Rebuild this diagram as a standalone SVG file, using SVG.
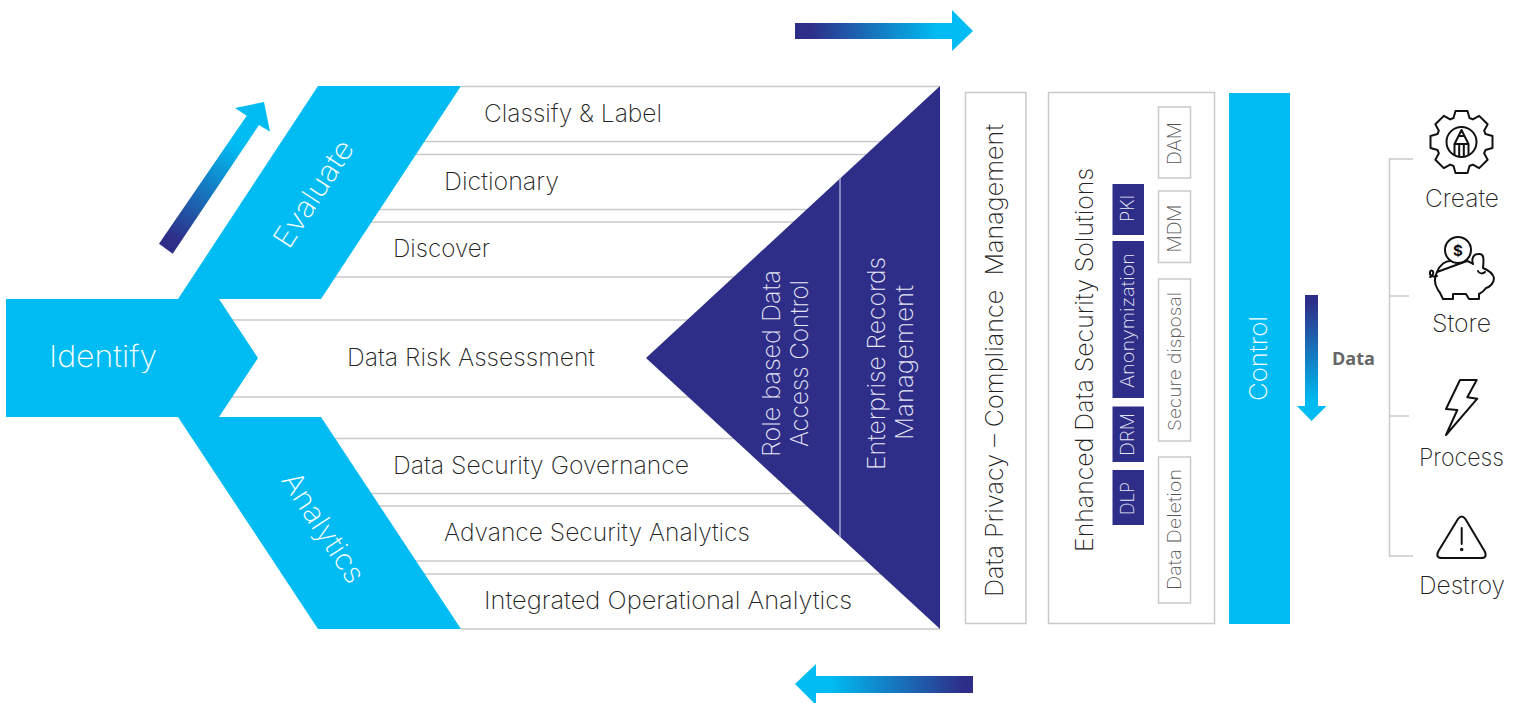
<svg xmlns="http://www.w3.org/2000/svg" width="1520" height="703" viewBox="0 0 1520 703">
<style>
text{font-family:"Inter","Liberation Sans",sans-serif;font-weight:200}
.t{font-size:24px;fill:#222}
.w{font-size:24px;fill:#fff}
.s{font-size:18px;fill:#555}
.sw{font-size:18px;fill:#e6e7f6}
.c{fill:#00bcf2}
.n{fill:#2e2d88}
.l{stroke:#c9c9c9;stroke-width:1.5;fill:none}
.b{fill:#fff;stroke:#c9c9c9;stroke-width:1.5}
.i{fill:none;stroke:#111;stroke-width:2;stroke-linejoin:round;stroke-linecap:round}
</style>
<defs>
<linearGradient id="gr" x1="0" x2="1" y1="0" y2="0"><stop offset="0.08" stop-color="#2e2d88"/><stop offset="0.8" stop-color="#00bcf2"/></linearGradient>
<linearGradient id="gl" x1="0" x2="1" y1="0" y2="0"><stop offset="0.2" stop-color="#00bcf2"/><stop offset="0.95" stop-color="#2e2d88"/></linearGradient>
<linearGradient id="gd" x1="0" x2="0" y1="0" y2="1"><stop offset="0.05" stop-color="#2e2d88"/><stop offset="0.85" stop-color="#00bcf2"/></linearGradient>
<linearGradient id="gu" gradientUnits="userSpaceOnUse" x1="166" y1="249" x2="253" y2="120"><stop offset="0.08" stop-color="#2e2d88"/><stop offset="0.8" stop-color="#00bcf2"/></linearGradient>
</defs>

<g id="connectors">
<path class="l" d="M461 86.500H940M400 141.500H940M380 154.500H940M340 209.500H940M330 222H940M300 277H940M232 320H940M232 397H940M300 438.500H940M340 493.500H940M350 506H940M380 561H940M400 574H940M461 629H940"/>
<path class="l" d="M1413 159H1389.500V556H1413M1389.500 296H1409M1389.500 416H1409"/>
<path fill="url(#gr)" d="M795 23H952V10L973 31L952 51V39H795Z"/>
<path fill="url(#gl)" d="M973 676H816V664L795 684L816 705V693H973Z"/>
<path fill="url(#gu)" d="M159 243.700L172.700 253.700L259 125L270 131.700L264 102L235 108L246.700 115.700Z"/>
<path fill="url(#gd)" d="M1305 295H1318V406H1326.500L1311.500 421L1297 406H1305Z"/>
</g>

<g id="node-evaluate"><polygon class="c" points="318,86 461,86 321,299 178,299"/><text class="w" style="font-size:29px" text-anchor="middle" transform="translate(322,199) rotate(-57)" textLength="122" lengthAdjust="spacingAndGlyphs">Evaluate</text></g>
<g id="node-identify"><polygon class="c" points="6,299 219,299 258,358 219,417 6,417"/><text class="w" style="font-size:30px" x="49" y="367" textLength="108" lengthAdjust="spacingAndGlyphs">Identify</text></g>
<g id="node-analytics"><polygon class="c" points="178,417 321,417 461,629 318,629"/><text class="w" style="font-size:29px" text-anchor="middle" transform="translate(315,533) rotate(56.700)" textLength="126" lengthAdjust="spacingAndGlyphs">Analytics</text></g>

<g id="node-classify"><text class="t" x="484" y="122" textLength="178" lengthAdjust="spacingAndGlyphs">Classify &amp; Label</text></g>
<g id="node-dictionary"><text class="t" x="444" y="190" textLength="115" lengthAdjust="spacingAndGlyphs">Dictionary</text></g>
<g id="node-discover"><text class="t" x="393" y="257" textLength="97" lengthAdjust="spacingAndGlyphs">Discover</text></g>
<g id="node-risk"><text class="t" x="347" y="366" textLength="248" lengthAdjust="spacingAndGlyphs">Data Risk Assessment</text></g>
<g id="node-governance"><text class="t" x="393" y="474" textLength="296" lengthAdjust="spacingAndGlyphs">Data Security Governance</text></g>
<g id="node-advance"><text class="t" x="444" y="541" textLength="306" lengthAdjust="spacingAndGlyphs">Advance Security Analytics</text></g>
<g id="node-integrated"><text class="t" x="484" y="609" textLength="368" lengthAdjust="spacingAndGlyphs">Integrated Operational Analytics</text></g>

<g id="node-triangle">
<polygon class="n" points="940,86 940,629 646,358"/>
<line x1="840" y1="178" x2="840" y2="537" stroke="#a9a9d4" stroke-width="1.500"/>
<text class="sw" style="font-size:24px" transform="translate(780,457) rotate(-90)" textLength="187" lengthAdjust="spacingAndGlyphs">Role based Data</text>
<text class="sw" style="font-size:24px" transform="translate(808,447) rotate(-90)" textLength="167" lengthAdjust="spacingAndGlyphs">Access Control</text>
<text class="sw" style="font-size:24px" transform="translate(885,470) rotate(-90)" textLength="213" lengthAdjust="spacingAndGlyphs">Enterprise Records</text>
<text class="sw" style="font-size:24px" transform="translate(913,440) rotate(-90)" textLength="155" lengthAdjust="spacingAndGlyphs">Management</text>
</g>

<g id="node-privacy"><rect class="b" x="965.500" y="92.500" width="60.500" height="531"/><text class="t" style="white-space:pre" transform="translate(1003,597) rotate(-90)" textLength="473" lengthAdjust="spacingAndGlyphs">Data Privacy – Compliance  Management</text></g>

<g id="node-enhanced"><rect class="b" x="1048.500" y="92.500" width="166" height="531"/><text class="t" transform="translate(1093,552) rotate(-90)" textLength="384" lengthAdjust="spacingAndGlyphs">Enhanced Data Security Solutions</text></g>
<g id="node-pki"><rect class="n" x="1112.500" y="184" width="31.500" height="51"/><text class="sw" transform="translate(1134,222) rotate(-90)" textLength="27" lengthAdjust="spacingAndGlyphs">PKI</text></g>
<g id="node-anonymization"><rect class="n" x="1112.500" y="241" width="31.500" height="157"/><text class="sw" transform="translate(1134,388) rotate(-90)" textLength="135" lengthAdjust="spacingAndGlyphs">Anonymization</text></g>
<g id="node-drm"><rect class="n" x="1112.500" y="406.500" width="31.500" height="55.500"/><text class="sw" transform="translate(1134,456) rotate(-90)" textLength="43" lengthAdjust="spacingAndGlyphs">DRM</text></g>
<g id="node-dlp"><rect class="n" x="1112.500" y="470" width="31.500" height="55"/><text class="sw" transform="translate(1134,515) rotate(-90)" textLength="33" lengthAdjust="spacingAndGlyphs">DLP</text></g>
<g id="node-dam"><rect class="b" x="1158.500" y="107" width="32" height="71"/><text class="s" transform="translate(1181,165) rotate(-90)" textLength="43" lengthAdjust="spacingAndGlyphs">DAM</text></g>
<g id="node-mdm"><rect class="b" x="1158.500" y="191" width="32" height="71.500"/><text class="s" transform="translate(1181,252.500) rotate(-90)" textLength="48" lengthAdjust="spacingAndGlyphs">MDM</text></g>
<g id="node-secure"><rect class="b" x="1158.500" y="279" width="32" height="162"/><text class="s" transform="translate(1181,431) rotate(-90)" textLength="139" lengthAdjust="spacingAndGlyphs">Secure disposal</text></g>
<g id="node-deletion"><rect class="b" x="1158.500" y="457" width="32" height="146"/><text class="s" transform="translate(1181,590) rotate(-90)" textLength="121" lengthAdjust="spacingAndGlyphs">Data Deletion</text></g>

<g id="node-control"><rect class="c" x="1229" y="93" width="61" height="531"/><text class="w" transform="translate(1267,401) rotate(-90)" textLength="85" lengthAdjust="spacingAndGlyphs">Control</text></g>
<g id="node-data"><text x="1332" y="365" style="font-family:'Open Sans','Liberation Sans',sans-serif;font-size:17.500px;font-weight:700;fill:#666" textLength="43" lengthAdjust="spacingAndGlyphs">Data</text></g>

<g id="node-create">
<g class="i" transform="translate(1461.500,142)">
<path d="M-8-24L-6-31L6-31L8-24L11.310-22.630L17.680-26.160L26.160-17.680L22.630-11.310L24-8L31-6L31 6L24 8L22.630 11.310L26.160 17.680L17.680 26.160L11.310 22.630L8 24L6 31L-6 31L-8 24L-11.310 22.630L-17.680 26.160L-26.160 17.680L-22.630 11.310L-24 8L-31 6L-31-6L-24-8L-22.630-11.310L-26.160-17.680L-17.680-26.160L-11.310-22.630Z"/>
<circle r="15"/>
<path d="M-7 13V2L0-12L7 2V13M-7 2H7M-2.300 2V14M2.300 2V14M-3-6H3"/>
</g>
<text class="t" x="1425" y="207" textLength="74" lengthAdjust="spacingAndGlyphs">Create</text>
</g>
<g id="node-store">
<g class="i">
<circle cx="1458" cy="250" r="13"/>
<path d="M1437 272C1440 264 1446 261 1450 261M1467 261C1470 262 1471 263 1473 264C1471 258 1474 254 1478 254C1484 253 1484 258 1483 268C1488 270 1493 274 1494 278C1494 283 1490 287 1486 288C1484 291 1481 293 1479 294V299H1469L1466 294H1453V299H1443C1441 295 1440 292 1438 290C1434 284 1434 278 1437 272Z"/>
<path d="M1437 276C1433 277 1429 276 1430 272C1431 269 1434 271 1433 274C1432 277 1431 277 1430 277M1478 271C1479 274 1483 274 1485 272"/>
</g>
<text x="1458" y="255.500" text-anchor="middle" style="font-size:15px;font-weight:700;fill:#111">$</text>
<text class="t" x="1432" y="332" textLength="59" lengthAdjust="spacingAndGlyphs">Store</text>
</g>
<g id="node-process">
<polygon class="i" points="1460,380 1476.700,380 1467.300,397.300 1477.300,398.700 1446,435 1457.300,410 1446,409"/>
<text class="t" x="1419" y="466" textLength="85" lengthAdjust="spacingAndGlyphs">Process</text>
</g>
<g id="node-destroy">
<g class="i">
<path d="M1458 519Q1461.700 514 1465.400 519L1484.500 551Q1488 558 1481 558H1442Q1435 558 1438.500 551Z"/>
<path d="M1461.700 528V544"/>
<circle cx="1461.700" cy="549.500" r="0.800"/>
</g>
<text class="t" x="1419" y="594" textLength="86" lengthAdjust="spacingAndGlyphs">Destroy</text>
</g>
</svg>
